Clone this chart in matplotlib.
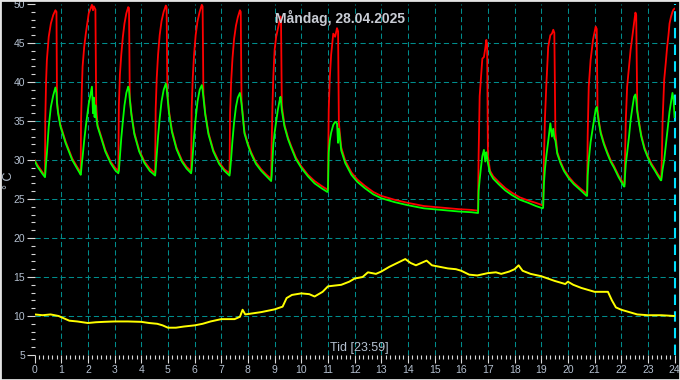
import numpy as np
import matplotlib
matplotlib.use('Agg')
import matplotlib.pyplot as plt
from matplotlib.ticker import MultipleLocator
from matplotlib.patches import Rectangle

plt.rcParams['font.family'] = ['Liberation Sans', 'DejaVu Sans']

title = 'Måndag, 28.04.2025'
x_label = 'Tid [23:59]'
y_label = '° C'

# boiler cycles: shared time grid (hours), flow (red) and return (green)
cycle_hours = [
    0.00, 0.10, 0.20, 0.30, 0.39,
    0.40, 0.43, 0.46, 0.53, 0.61, 0.70, 0.78, 0.82, 0.84, 0.88, 0.97, 1.16, 1.41, 1.58, 1.73,
    1.74, 1.77, 1.80, 1.86, 1.92, 2.03, 2.15, 2.19, 2.22, 2.25, 2.28, 2.31, 2.36, 2.48, 2.65,
    2.85, 3.02, 3.14,
    3.16, 3.20, 3.25, 3.31, 3.37, 3.44, 3.51, 3.54, 3.57, 3.63, 3.74, 3.92, 4.12, 4.32, 4.52,
    4.54, 4.58, 4.63, 4.69, 4.76, 4.84, 4.92, 4.95, 4.98, 5.04, 5.15, 5.32, 5.52, 5.70, 5.87,
    5.89, 5.93, 5.98, 6.04, 6.11, 6.19, 6.27, 6.30, 6.33, 6.40, 6.52, 6.70, 6.92, 7.12, 7.31,
    7.33, 7.37, 7.42, 7.48, 7.55, 7.62, 7.70, 7.73, 7.76, 7.87, 8.00, 8.12, 8.30, 8.50, 8.70, 8.87,
    8.89, 8.92, 8.95, 9.00, 9.06, 9.12, 9.18, 9.22, 9.24, 9.27, 9.37, 9.50, 9.62, 9.80, 10.00,
    10.25, 10.50, 10.75, 10.98,
    11.00, 11.03, 11.07, 11.12, 11.20, 11.27, 11.34, 11.38, 11.41, 11.50, 11.65, 11.88, 12.10,
    12.38, 12.70, 13.00, 13.50, 14.00, 14.60, 15.26, 15.90, 16.39, 16.61,
    16.63, 16.65, 16.69, 16.74, 16.79, 16.85, 16.90, 16.94, 16.97, 17.00, 17.08, 17.20, 17.40,
    17.65, 17.90, 18.20, 18.52, 18.80, 19.05,
    19.07, 19.10, 19.14, 19.19, 19.26, 19.34, 19.40, 19.45, 19.49, 19.53, 19.60, 19.72, 19.85,
    20.02, 20.22, 20.45, 20.70,
    20.72, 20.74, 20.78, 20.85, 20.94, 21.04, 21.08, 21.11, 21.16, 21.23, 21.35, 21.48, 21.60,
    21.73, 21.90, 22.10,
    22.12, 22.14, 22.17, 22.22, 22.29, 22.35, 22.42, 22.48, 22.53, 22.56, 22.60, 22.67, 22.75,
    22.87, 23.00, 23.12, 23.25, 23.37, 23.48,
    23.50, 23.52, 23.55, 23.61, 23.67, 23.72, 23.77, 23.81, 23.86, 23.92, 23.96, 24.00,
]
flow_temp = [
    30.0, 29.4, 28.9, 28.4, 28.0,
    35.1, 40.0, 42.8, 45.8, 47.5, 48.6, 49.2, 49.0, 37.5, 36.2, 34.5, 32.4, 30.2, 29.2, 28.4,
    34.7, 39.0, 42.0, 44.5, 46.2, 48.8, 49.9, 49.2, 49.7, 49.5, 49.3, 37.0, 34.5, 33.2, 31.3,
    29.8, 29.0, 28.6,
    37.0, 41.0, 43.5, 45.8, 47.5, 48.8, 49.6, 49.5, 38.0, 36.0, 33.5, 31.3, 29.8, 28.9, 28.3,
    36.5, 40.5, 43.5, 46.0, 47.8, 49.0, 49.8, 49.6, 38.5, 36.3, 33.8, 31.6, 30.0, 29.1, 28.6,
    36.5, 40.5, 43.5, 46.0, 47.8, 49.0, 49.9, 49.7, 38.5, 36.0, 33.5, 31.3, 29.7, 28.8, 28.3,
    36.0, 40.0, 43.0, 45.5, 47.2, 48.3, 49.2, 49.0, 37.5, 33.6, 32.1, 31.0, 29.7, 28.8, 28.1, 27.6,
    32.0, 37.0, 40.5, 44.1, 45.8, 46.8, 47.8, 48.4, 48.0, 37.0, 34.5, 32.9, 31.8, 30.3, 29.2,
    28.1, 27.3, 26.7, 26.2,
    26.5, 36.5, 40.5, 43.5, 46.2, 45.8, 46.9, 46.5, 34.8, 31.6, 29.9, 28.4, 27.5,
    26.7, 25.9, 25.4, 24.9, 24.5, 24.1, 23.9, 23.7, 23.6, 23.5,
    23.5, 30.5, 38.2, 40.7, 43.0, 43.2, 44.3, 45.4, 44.8, 30.5, 28.6, 27.9, 27.2,
    26.4, 25.8, 25.2, 24.8, 24.5, 24.2,
    24.2, 30.0, 35.5, 39.6, 44.5, 46.0, 46.2, 46.7, 46.3, 33.5, 31.0, 29.8, 28.8,
    27.9, 27.1, 26.4, 25.7,
    25.7, 33.0, 39.4, 42.8, 45.4, 47.1, 46.8, 36.5, 35.0, 33.6, 32.2, 31.0, 30.0,
    29.2, 28.0, 26.9,
    26.9, 30.0, 35.1, 39.4, 42.0, 44.1, 46.0, 47.6, 48.9, 48.6, 36.5, 34.8, 33.2,
    31.6, 30.5, 29.6, 28.9, 28.2, 27.7,
    27.7, 30.0, 35.1, 40.3, 42.5, 44.5, 46.0, 47.5, 48.3, 49.0, 49.3, 49.4,
]
return_temp = [
    29.9, 29.2, 28.7, 28.2, 27.8,
    28.2, 29.6, 30.8, 34.3, 36.8, 38.3, 39.3, 38.6, 37.3, 36.0, 34.3, 32.2, 30.0, 29.0, 28.1,
    28.4, 29.5, 30.4, 32.5, 34.3, 37.2, 39.4, 36.0, 38.0, 35.5, 37.0, 35.5, 34.3, 33.0, 31.1,
    29.6, 28.7, 28.3,
    28.6, 30.5, 32.8, 35.0, 37.0, 38.6, 39.4, 39.0, 37.8, 35.8, 33.3, 31.1, 29.6, 28.6, 28.0,
    28.8, 30.6, 33.0, 35.3, 37.5, 39.0, 39.8, 39.2, 38.2, 36.0, 33.6, 31.4, 29.8, 28.9, 28.3,
    28.8, 30.6, 33.0, 35.3, 37.5, 39.0, 39.6, 39.0, 38.0, 35.8, 33.3, 31.1, 29.5, 28.6, 28.0,
    28.6, 30.2, 32.5, 34.8, 36.8, 38.0, 38.6, 38.0, 37.2, 33.4, 31.9, 30.8, 29.5, 28.6, 27.9, 27.3,
    28.0, 30.0, 31.9, 33.5, 35.0, 36.4, 37.5, 38.1, 37.6, 36.4, 34.3, 32.7, 31.6, 30.1, 29.0,
    27.9, 27.0, 26.4, 25.9,
    26.0, 31.0, 32.5, 33.5, 34.5, 34.9, 34.7, 32.2, 34.0, 31.2, 29.6, 28.1, 27.2,
    26.4, 25.6, 25.1, 24.6, 24.2, 23.8, 23.6, 23.4, 23.3, 23.2,
    23.2, 26.0, 27.5, 29.1, 30.5, 31.3, 29.8, 31.0, 30.4, 29.6, 28.3, 27.6, 26.9,
    26.1, 25.5, 24.9, 24.5, 24.1, 23.8,
    23.9, 27.0, 28.9, 30.5, 32.4, 34.7, 33.0, 34.0, 32.8, 32.5, 30.8, 29.6, 28.6,
    27.7, 26.9, 26.2, 25.4,
    25.4, 28.0, 30.0, 32.3, 34.3, 36.5, 36.8, 36.0, 34.8, 33.4, 32.0, 30.8, 29.8,
    29.0, 27.8, 26.6,
    26.6, 28.0, 29.5, 30.9, 33.0, 35.1, 36.8, 38.1, 38.4, 37.8, 36.2, 34.6, 33.0,
    31.4, 30.3, 29.4, 28.7, 28.0, 27.4,
    27.4, 28.0, 28.8, 30.0, 31.8, 33.4, 35.0, 36.2, 37.3, 38.6, 37.8, 35.5,
]

# outdoor temperature (yellow)
outdoor_hours = [
    0.0, 0.3, 0.6, 0.9, 1.1, 1.3, 1.6, 2.0, 2.3, 2.6, 3.0, 3.5, 4.0, 4.3, 4.6, 4.8,
    5.0, 5.3, 5.6, 6.0, 6.3, 6.6, 7.0, 7.5, 7.7, 7.8, 7.9, 8.1, 8.5, 9.0, 9.3, 9.45,
    9.65, 10.0, 10.3, 10.5, 10.8, 11.0, 11.5, 11.8, 12.0, 12.3, 12.5, 12.8, 13.0, 13.3,
    13.6, 13.9, 14.1, 14.3, 14.5, 14.7, 14.9, 15.2, 15.5, 15.8, 16.0, 16.3, 16.6, 17.0,
    17.3, 17.5, 17.8, 18.0, 18.15, 18.3, 18.6, 19.0, 19.5, 19.9, 20.0, 20.2, 20.5, 21.0,
    21.5, 21.65, 21.8, 22.0, 22.3, 22.6, 23.0, 23.5, 24.0,
]
outdoor_temp = [
    10.2, 10.1, 10.2, 10.0, 9.7, 9.4, 9.3, 9.1, 9.2, 9.25, 9.3, 9.3, 9.25, 9.1, 9.0, 8.8,
    8.5, 8.5, 8.65, 8.8, 9.0, 9.3, 9.6, 9.6, 9.9, 10.8, 10.2, 10.3, 10.5, 10.85, 11.2, 12.3,
    12.7, 12.9, 12.8, 12.5, 13.1, 13.8, 14.0, 14.4, 14.8, 15.0, 15.6, 15.4, 15.7, 16.3,
    16.8, 17.3, 16.8, 16.5, 16.8, 17.1, 16.5, 16.3, 16.1, 16.0, 15.8, 15.3, 15.2, 15.5,
    15.6, 15.4, 15.7, 16.0, 16.5, 15.8, 15.4, 15.1, 14.5, 14.1, 14.4, 14.0, 13.6, 13.1,
    13.1, 12.0, 11.1, 10.8, 10.5, 10.2, 10.1, 10.1, 10.0,
]

label_col = '#b4c0d0'
grid_col = '#008c8c'

fig = plt.figure(figsize=(6.8, 3.8), dpi=100, facecolor='black')
ax = fig.add_axes([34.6 / 680, 25 / 380, 640 / 680, 351 / 380], facecolor='black')

ax.plot(cycle_hours, flow_temp, color='#ff0000', lw=1.3, zorder=3)
ax.plot(cycle_hours, return_temp, color='#00ff00', lw=1.3, zorder=4)
ax.plot(outdoor_hours, outdoor_temp, color='#ffff00', lw=1.4, zorder=3)

ax.set_xlim(0, 24)
ax.set_ylim(5, 50)
ax.xaxis.set_major_locator(MultipleLocator(1))
ax.xaxis.set_minor_locator(MultipleLocator(1 / 6))
ax.yaxis.set_major_locator(MultipleLocator(5))
ax.yaxis.set_minor_locator(MultipleLocator(1))

for h in range(1, 24):
    ax.axvline(h, color=grid_col, lw=0.75, ls=(0, (5, 3)), zorder=1)
for t in range(10, 50, 5):
    ax.axhline(t, color=grid_col, lw=0.75, ls=(0, (5, 3)), zorder=1)
ax.axvline(24, color='#00e0ff', lw=1.5, ls=(0, (5, 3)), zorder=2, clip_on=False)

for s in ax.spines.values():
    s.set_visible(False)

ax.tick_params(which='major', length=5.5, width=0.8, color='#d8d8d8',
               labelcolor=label_col, labelsize=7.5, pad=1.5)
ax.tick_params(which='minor', length=2.8, width=0.8, color='#d8d8d8')

fig.text(340 / 680, 1 - 18 / 380, title, ha='center', va='center',
         fontsize=10, fontweight='bold', color='#c8ccd4')
fig.text(359 / 680, 1 - 348 / 380, x_label, ha='center', va='center',
         fontsize=9, color=label_col)
fig.text(9 / 680, 1 - 180 / 380, y_label, ha='center', va='center',
         rotation=90, fontsize=9, color=label_col)

fig.patches.append(Rectangle((0, 0), 1, 1, transform=fig.transFigure, fill=False,
                             edgecolor='#e4e4e4', lw=2))

fig.savefig('out.png', dpi=100, facecolor='black')
